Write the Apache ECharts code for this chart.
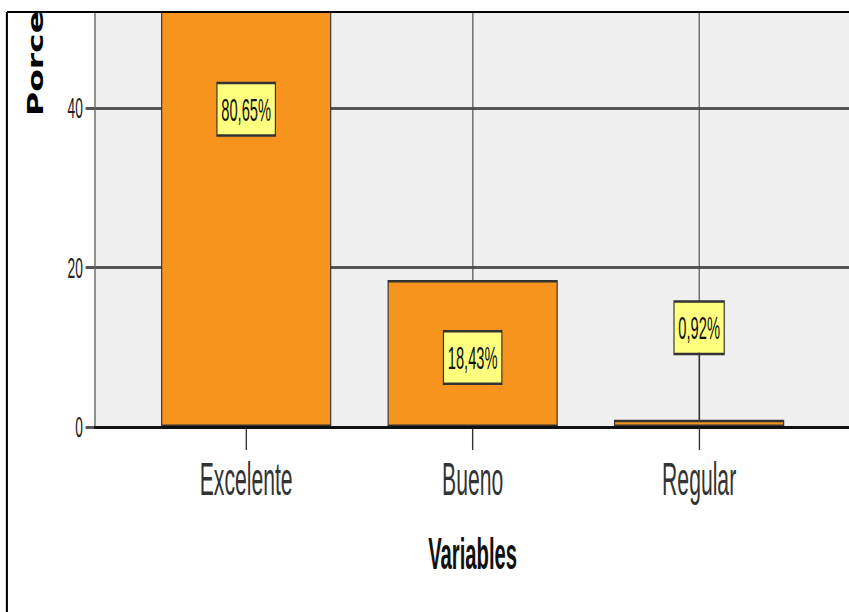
<!DOCTYPE html>
<html>
<head>
<meta charset="utf-8">
<script src="https://cdn.jsdelivr.net/npm/echarts@6/dist/echarts.min.js"></script>
<style>
html, body { margin: 0; padding: 0; overflow: hidden; background: #fff; }
/* the original SPSS picture is squeezed sideways, so the chart is drawn wide and scaled down */
#chart { width: 1846px; height: 612px; transform: scaleX(0.46); transform-origin: 0 0; }
</style>
</head>
<body>
<div id="chart"></div>
<script>
let categories = ['Excelente', 'Bueno', 'Regular']
let percentages = [80.65, 18.43, 0.92]
let yTicks = [0, 20, 40]
let yMax = 52

let font = "'Liberation Sans', Arial, sans-serif"
let gridTop = 12
let gridBottom = 185
let liftPx = 67   // how far a small bar's label is lifted above the bar

function fmt(v) {
    return v.toFixed(2).replace('.', ',') + '%'
}

window.onload = function () {
    let pxPerUnit = (612 - gridTop - gridBottom) / yMax
    let leaders = []
    let barData = percentages.map(function (v, i) {
        let item = { value: v }
        if (v < 5) {
            // too small for an inside label: SPSS lifts it up with a leader line
            item.label = { position: 'top', distance: liftPx, offset: [0, 0] }
            leaders.push([{ coord: [i, v] }, { coord: [i, v + liftPx / pxPerUnit] }])
        }
        return item
    })

    let chart = echarts.init(document.querySelector('#chart'), null, { renderer: 'svg' })
    let option = {
        animation: false,
        grid: [
            { left: 206, right: 0, top: gridTop, bottom: gridBottom, show: true, backgroundColor: '#f0f0f0', borderWidth: 0 },
            { left: 289, right: 80, top: gridTop, bottom: gridBottom }
        ],
        xAxis: [
            {
                gridIndex: 0, type: 'value', min: 0, max: 1, z: 5,
                axisLine: { show: true, lineStyle: { color: '#111', width: 3 } },
                axisTick: { show: false }, axisLabel: { show: false }, splitLine: { show: false }
            },
            {
                gridIndex: 1, type: 'category', data: categories,
                axisLine: { show: false },
                axisTick: { show: true, alignWithLabel: true, length: 23, lineStyle: { color: '#333', width: 3 } },
                axisLabel: { fontSize: 46, color: '#333', margin: 30, fontFamily: font },
                splitLine: { show: true, alignWithLabel: true, lineStyle: { color: '#444', width: 2.4 } },
                name: 'Variables', nameLocation: 'middle', nameGap: 105,
                nameTextStyle: { fontSize: 44, fontWeight: 'bold', color: '#111', fontFamily: font }
            }
        ],
        yAxis: [
            {
                gridIndex: 0, type: 'value', min: 0, max: yMax,
                axisLine: { show: true, lineStyle: { color: '#666', width: 3 } },
                axisTick: { show: true, length: 20, customValues: yTicks, lineStyle: { color: '#555', width: 3 } },
                axisLabel: { customValues: yTicks, fontSize: 30, color: '#222', margin: 26, fontFamily: font },
                splitLine: { show: true, lineStyle: { color: '#555', width: 3 } }
            },
            { gridIndex: 1, type: 'value', min: 0, max: yMax, show: false }
        ],
        series: [
            {
                type: 'bar',
                xAxisIndex: 1,
                yAxisIndex: 1,
                data: barData,
                barWidth: 370,
                clip: false,
                itemStyle: { color: '#F7941E', borderColor: '#333', borderWidth: 2.5 },
                emphasis: { disabled: true },
                label: {
                    show: true,
                    position: 'inside',
                    offset: [0, 4],
                    formatter: function (p) { return fmt(p.value) },
                    fontSize: 32,
                    lineHeight: 32,
                    fontFamily: font,
                    color: '#111',
                    backgroundColor: '#FFFF80',
                    borderColor: '#333',
                    borderWidth: 2.5,
                    padding: [9, 8]
                },
                markLine: {
                    silent: true,
                    symbol: 'none',
                    label: { show: false },
                    lineStyle: { color: '#333', width: 3, type: 'solid' },
                    data: leaders
                }
            }
        ],
        graphic: [
            { type: 'rect', z: 100, shape: { x: 0, y: 0, width: 1846, height: 11 }, style: { fill: '#fff' } },
            { type: 'line', z: 101, shape: { x1: 15, y1: 12, x2: 1846, y2: 12 }, style: { stroke: '#000', lineWidth: 2 } },
            { type: 'line', z: 101, shape: { x1: 15, y1: 12, x2: 15, y2: 612 }, style: { stroke: '#000', lineWidth: 4.5 } },
            {
                type: 'text', z: 99, x: 77, y: 116, rotation: Math.PI / 2, scaleY: 1.36,
                style: {
                    text: 'Porcentaje', fill: '#000', fontSize: 33, fontWeight: 'bold',
                    fontFamily: "'DejaVu Sans', sans-serif", textAlign: 'left', textVerticalAlign: 'middle'
                }
            }
        ]
    }
    chart.setOption(option)
}
</script>
</body>
</html>
